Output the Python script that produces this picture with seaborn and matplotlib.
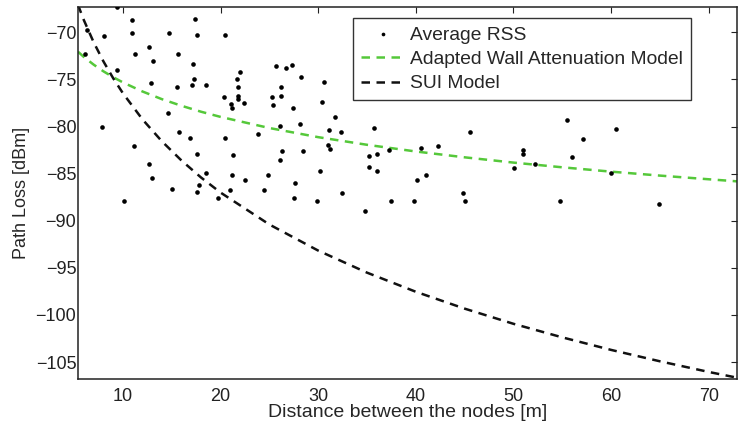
import numpy as np
import pandas as pd
import matplotlib
matplotlib.use("Agg")
import matplotlib.pyplot as plt
import seaborn as sns

# --- measured points (distance [m], average RSS [dBm]) ---
dist = [6.09, 6.35, 9.42, 8.03, 7.82, 9.35, 10.16, 10.95, 10.95, 11.25,
        11.15, 12.64, 13.05, 12.91, 12.64, 12.95, 14.58, 14.75, 15.05, 15.63,
        15.56, 15.76, 16.88, 17.36, 17.59, 17.19, 17.29, 17.09, 17.56, 17.80,
        17.56, 18.48, 18.54, 19.70, 20.48, 20.38, 20.48, 21.05, 21.15, 21.26,
        21.15, 20.98, 21.96, 21.69, 21.79, 21.79, 21.76, 22.37, 22.47, 23.79,
        24.47, 24.88, 25.70, 25.29, 25.39, 26.10, 26.30, 26.10, 26.17, 26.17,
        26.71, 27.29, 27.39, 27.63, 27.53, 28.21, 28.10, 28.41, 29.90, 30.20,
        30.58, 30.35, 31.77, 31.12, 32.31, 31.02, 31.22, 32.41, 35.67, 35.23,
        36.07, 35.23, 36.04, 34.82, 37.43, 37.22, 39.84, 40.55, 40.14, 41.06,
        42.28, 45.57, 44.85, 45.06, 50.08, 51.00, 51.00, 52.18, 54.79, 55.50,
        55.98, 57.10, 60.01, 60.52, 64.93]
rss = [-72.33, -69.76, -67.35, -70.36, -80.07, -74.03, -87.86, -68.70, -70.04, -72.33,
       -82.06, -71.52, -73.08, -75.38, -83.97, -85.42, -78.56, -70.04, -86.58, -72.26,
       -75.83, -80.60, -81.24, -68.59, -70.30, -73.40, -74.98, -75.60, -82.90, -86.19,
       -87.00, -75.60, -84.92, -87.54, -70.30, -76.90, -81.20, -77.57, -77.99, -83.00,
       -85.10, -86.76, -74.24, -74.98, -75.80, -76.75, -77.07, -77.46, -85.63, -80.75,
       -86.76, -85.17, -73.60, -76.83, -77.67, -79.90, -82.58, -83.54, -75.80, -76.75,
       -73.80, -73.50, -77.99, -85.95, -87.64, -74.77, -79.69, -82.58, -87.86, -84.67,
       -75.24, -77.39, -78.95, -80.36, -80.60, -81.98, -82.41, -87.01, -80.12, -83.12,
       -82.90, -84.28, -84.71, -88.98, -87.92, -82.51, -87.92, -82.30, -85.63, -85.17,
       -82.09, -80.60, -87.01, -87.92, -84.39, -82.48, -82.90, -83.97, -87.92, -79.27,
       -83.26, -81.35, -84.92, -80.22, -88.24]

# --- model curves ---
model_d = [5.4, 6, 7, 8, 9, 10, 12, 14, 16, 18, 20, 25, 30, 35, 40, 45, 50,
           55, 60, 65, 70, 72.9]
wall_model = [-72.06, -72.62, -73.43, -74.14, -74.76, -75.32, -76.28, -77.10,
              -77.80, -78.43, -78.98, -80.16, -81.13, -81.94, -82.65, -83.27,
              -83.83, -84.33, -84.79, -85.21, -85.60, -85.82]
sui_model = [-67.10, -68.71, -71.05, -73.08, -74.87, -76.47, -79.24, -81.58,
             -83.61, -85.41, -87.01, -90.40, -93.17, -95.51, -97.54, -99.33,
             -100.94, -102.38, -103.71, -104.92, -106.05, -106.66]

sns.set_style("white")
plt.rcParams['font.family'] = ['Liberation Sans', 'DejaVu Sans']

fig = plt.figure(figsize=(7.38, 4.26), dpi=100)
ax = fig.add_axes([0.1057, 0.1103, 0.893, 0.8725])

sns.scatterplot(x=dist, y=rss, ax=ax, color='black', s=11, linewidth=0,
                label='Average RSS', zorder=3)
sns.lineplot(x=model_d, y=wall_model, ax=ax, color='#55c83a', linewidth=1.8,
             linestyle='--', label='Adapted Wall Attenuation Model')
ax.lines[-1].set_dashes((3.4, 2.6))
sns.lineplot(x=model_d, y=sui_model, ax=ax, color='#111111', linewidth=1.8,
             linestyle='--', label='SUI Model')
ax.lines[-1].set_dashes((3.4, 2.6))

ax.set_xlim(5.4, 72.9)
ax.set_ylim(-106.8, -67.35)
ax.set_xticks(range(10, 71, 10))
ax.set_yticks(range(-105, -69, 5))
ax.tick_params(direction='in', top=True, right=True, length=4, width=0.8,
               labelsize=13, colors='#222222')
ax.tick_params(axis='y', pad=1.2)
ax.tick_params(axis='x', pad=6.5)
for sp in ax.spines.values():
    sp.set_color('#222222')
    sp.set_linewidth(1.1)

ax.set_xlabel('Distance between the nodes [m]', fontsize=14, labelpad=-1)
ax.set_ylabel('Path Loss [dBm]', fontsize=13, labelpad=4)

leg = ax.legend(loc='upper left', bbox_to_anchor=(0.4177, 0.9704), fontsize=13.9,
                frameon=True, fancybox=False, edgecolor='black',
                handlelength=2.3, handletextpad=0.25, borderpad=0.4,
                labelspacing=0.36, borderaxespad=0, markerscale=0.8)
leg.get_frame().set_linewidth(1.0)

fig.savefig('out.png', dpi=100)
